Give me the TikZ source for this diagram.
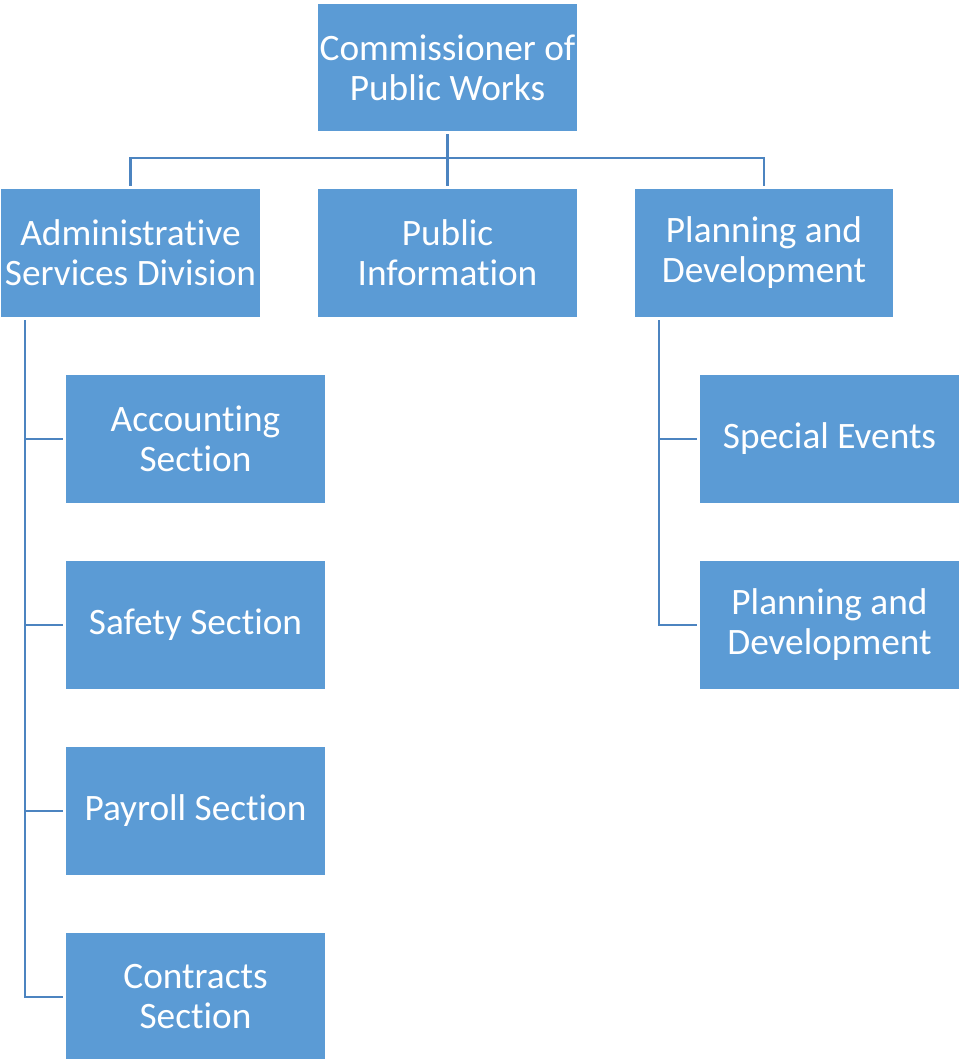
\documentclass[tikz,border=0pt]{standalone}
\usepackage{fontspec}
\setmainfont{Carlito}[RawFeature={-liga;-clig;-dlig;-calt}]
\definecolor{boxfill}{HTML}{5B9BD5}
\definecolor{boxline}{HTML}{4C84C0}
\begin{document}
\begin{tikzpicture}[x=1pt,y=-1pt,
  unit/.style={fill=boxfill, draw=none, text=white, minimum width=259pt, minimum height=128pt,
    align=center, inner sep=0pt, font=\fontsize{37.3}{40}\selectfont},
  conn/.style={draw=boxline, line width=2.3pt, shorten <=3pt, shorten >=3pt}]
\useasboundingbox (0,0) rectangle (960,1059);
\node[unit, minimum height=127pt] (comm) at (447.5,67.5) {Commissioner of\\Public Works};
\node[unit] (admin) at (130.5,253) {Administrative\\Services Division};
\node[unit] (pub) at (447.5,253) {Public\\Information};
\node[unit, minimum width=258pt] (plan) at (764,253) {Planning and\\Development};
\node[unit] (acc) at (195.5,439) {Accounting\\Section};
\node[unit] (safe) at (195.5,625) {Safety Section};
\node[unit] (pay) at (195.5,811) {Payroll Section};
\node[unit] (cont) at (195.5,997) {Contracts\\Section};
\node[unit] (spec) at (829.5,439) {Special Events};
\node[unit] (plan2) at (829.5,625) {Planning and\\Development};
\coordinate (bar) at (447.5,158);
\coordinate (atop) at (25,317);
\coordinate (ptop) at (659,317);
\draw[conn, shorten >=0pt] (comm.south) -- (bar);
\draw[conn, shorten >=0pt] (admin.north) |- (bar);
\draw[conn, shorten >=0pt] (plan.north) |- (bar);
\draw[conn, shorten >=0pt] (pub.north) -- (bar);
\draw[conn] (atop) |- (acc.west);
\draw[conn] (atop) |- (safe.west);
\draw[conn] (atop) |- (pay.west);
\draw[conn] (atop) |- (cont.west);
\draw[conn] (ptop) |- (spec.west);
\draw[conn] (ptop) |- (plan2.west);
\end{tikzpicture}
\end{document}
